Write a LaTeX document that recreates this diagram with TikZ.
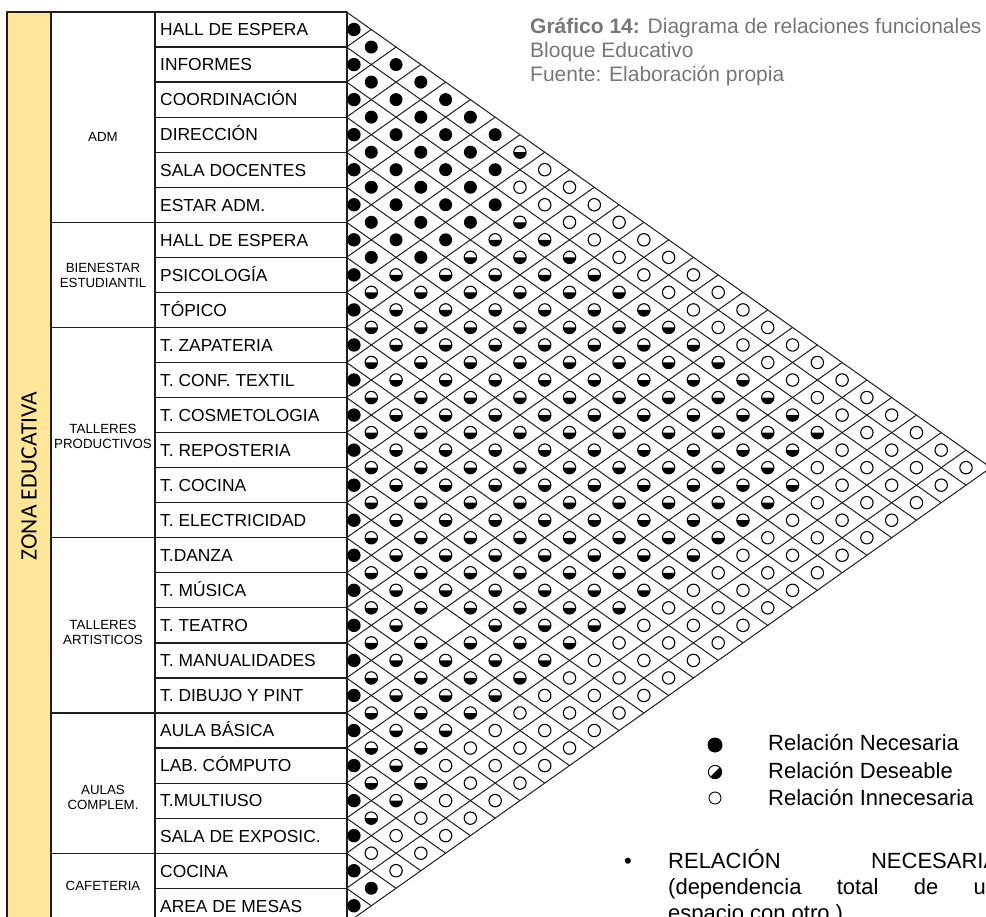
\documentclass[tikz,border=0pt]{standalone}
\usepackage{fontspec}
\setmainfont{Liberation Sans}
\newfontfamily\zonafont{Carlito}
\usepackage{tikz}
\definecolor{amarillo}{RGB}{255,230,153}
\definecolor{grisTitulo}{RGB}{118,118,118}
\definecolor{linea}{RGB}{30,30,30}

\tikzset{
  necesaria/.pic={\fill[black] (0pt,0pt) circle (6.5pt);},
  deseable/.pic={
    \fill[black] (-6.2pt,0pt) arc[start angle=180, end angle=360, radius=6.2pt] -- cycle;
    \draw[line width=1.1pt] (0pt,0pt) circle (6.2pt);},
  innecesaria/.pic={\draw[line width=1.1pt] (0pt,0pt) circle (6.2pt);},
  tabla/.style={linea, line width=1.2pt},
  rejilla/.style={linea, line width=1pt},
  nombre/.style={anchor=base west, inner sep=0pt, font=\fontsize{17.4}{18}\selectfont},
  grupo/.style={align=center, inner sep=0pt, font=\fontsize{13.3}{15}\selectfont},
  leyenda/.style={anchor=base west, inner sep=0pt, font=\fontsize{22}{26}\selectfont},
}

\begin{document}
\begin{tikzpicture}[x=1pt, y=-1pt, line join=round]
  \useasboundingbox (0,0) rectangle (986,917);
  \clip (0,0) rectangle (986,917);

  % Zona educativa
  \fill[amarillo] (7,12) rectangle (51,923.3);
  \node[rotate=90, inner sep=0pt, font=\zonafont\fontsize{23.5}{25}\selectfont] (zona) at (29,476) {ZONA EDUCATIVA};

  % Tabla de ambientes
  \draw[tabla] (7,12) rectangle (347,923.3);
  \foreach \x in {51,155} \draw[tabla] (\x,12) -- (\x,923.3);
  \foreach \m in {1,...,25} \draw[tabla] (155,12+\m*35.05) -- (347,12+\m*35.05);
  \foreach \m in {6,9,15,20,24} \draw[tabla] (51,12+\m*35.05) -- (155,12+\m*35.05);

  \foreach \nom [count=\r] in {HALL DE ESPERA, INFORMES, COORDINACIÓN, DIRECCIÓN,
      SALA DOCENTES, ESTAR ADM., HALL DE ESPERA, PSICOLOGÍA, TÓPICO, T. ZAPATERIA,
      T. CONF. TEXTIL, T. COSMETOLOGIA, T. REPOSTERIA, T. COCINA, T. ELECTRICIDAD,
      T.DANZA, T. MÚSICA, T. TEATRO, T. MANUALIDADES, T. DIBUJO Y PINT, AULA BÁSICA,
      LAB. CÓMPUTO, T.MULTIUSO, SALA DE EXPOSIC., COCINA, AREA DE MESAS}
    \node[nombre] (amb\r) at (160,12+\r*35.05-17.5+6.3) {\nom};

  % Grupos
  \node[grupo] (adm) at (103,137) {ADM};
  \node[grupo] (bienestar) at (103,275) {BIENESTAR\\ESTUDIANTIL};
  \node[grupo] (productivos) at (103,436) {TALLERES\\PRODUCTIVOS};
  \node[grupo] (artisticos) at (103,632) {TALLERES\\ARTISTICOS};
  \node[grupo] (aulas) at (103,797) {AULAS\\COMPLEM.};
  \node[grupo] (cafeteria) at (103,886) {CAFETERIA};

  % Matriz de relaciones
  \begin{scope}[shift={(346.5,12)}, x=24.78pt, y=-17.525pt]
    \foreach \m in {0,...,25} \draw[rejilla] (0,2*\m) -- (26-\m,26+\m);
    \foreach \m in {1,...,26} \draw[rejilla] (0,2*\m) -- (\m,\m);
    \foreach \r in {1,...,26} \fill (0.3,2*\r-1) circle (6.7pt);
    % fila / necesarias / deseables / innecesarias
    \foreach \i/\nn/\nd/\nu in {1/6/1/18, 2/6/0/18, 3/6/13/4, 4/5/13/4, 5/4/14/3,
        6/3/14/3, 7/1/15/3, 8/0/15/3, 9/0/14/3, 10/0/13/3, 11/0/12/3, 12/0/11/3,
        13/0/10/3, 14/0/9/3, 15/0/8/3, 16/0/7/3, 17/0/6/3, 18/0/5/3, 19/0/4/3,
        20/0/3/3, 21/0/3/2, 22/0/2/2, 23/0/1/2, 24/0/0/2, 25/1/0/0}{
      \pgfmathtruncatemacro\ultimo{26-\i}
      \foreach \k in {1,...,\ultimo}{
        \pgfmathtruncatemacro\tipo{\k<=\nn ? 1 : (\k<=\nn+\nd ? 2 : 3)}
        \ifnum\i=16 \ifnum\k=4 \def\tipo{0}\fi\fi
        \ifcase\tipo
        \or \pic at (\k,2*\i+\k-1) {necesaria};
        \or \pic at (\k,2*\i+\k-1) {deseable};
        \or \pic at (\k,2*\i+\k-1) {innecesaria};
        \fi
      }
    }
  \end{scope}

  % Titulo
  \node[anchor=base west, inner sep=0pt, text=grisTitulo, font=\fontsize{21}{24}\selectfont] (titulo) at (530,34) {\textbf{Gráfico 14:} Diagrama de relaciones funcionales};
  \node[anchor=base west, inner sep=0pt, text=grisTitulo, font=\fontsize{21}{24}\selectfont] (bloque) at (530,58) {Bloque Educativo};
  \node[anchor=base west, inner sep=0pt, text=grisTitulo, font=\fontsize{21}{24}\selectfont] (fuente) at (530,82) {Fuente: Elaboración propia};

  % Leyenda
  \fill (715,745) circle (7.5pt);
  \fill (715,772) ++(45:7pt) arc[start angle=45, end angle=-135, radius=7pt] -- cycle;
  \draw[line width=1pt] (715,772) circle (6.6pt);
  \draw[line width=0.9pt] (715,798) circle (6pt);
  \node[leyenda] (lnec) at (768,750) {Relación Necesaria};
  \node[leyenda] (ldes) at (768,778) {Relación Deseable};
  \node[leyenda] (linn) at (768,805) {Relación Innecesaria};

  % Definicion
  \node[leyenda, anchor=base] (vineta) at (628,868) {•};
  \node[leyenda] (def1) at (668,868) {\makebox[330pt][s]{RELACIÓN NECESARIA}};
  \node[leyenda] (def2) at (668,894) {\makebox[330pt][s]{(dependencia total de un}};
  \node[leyenda] (def3) at (668,920) {espacio con otro.)};
\end{tikzpicture}
\end{document}
